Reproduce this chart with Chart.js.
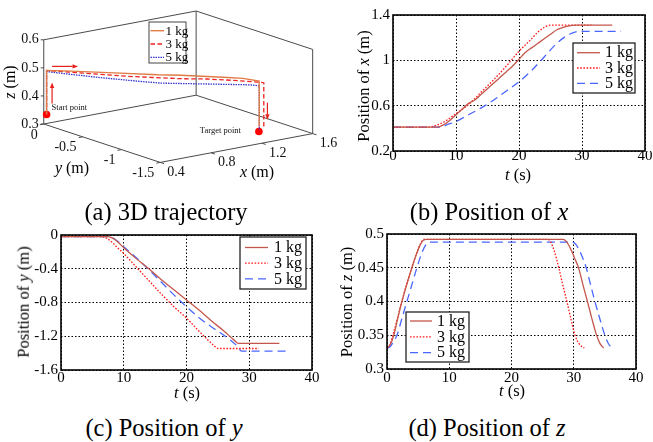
<!DOCTYPE html>
<html><head><meta charset="utf-8">
<script src="https://cdn.jsdelivr.net/npm/chart.js@4.4.1/dist/chart.umd.min.js"></script>
<style>
html,body{margin:0;padding:0;background:#fff;}
#wrap{position:relative;width:653px;height:442px;overflow:hidden;background:#fff;font-family:"Liberation Serif","Times New Roman",Tinos,"DejaVu Serif",serif;color:#000;}
canvas{position:absolute;}
.t{position:absolute;white-space:nowrap;line-height:1;transform:translate(-50%,-50%);}
.r{transform:translate(-50%,-50%) rotate(-90deg);}
.cap{font-size:24.5px;}
.ax{font-size:16.5px;}
.ax3{font-size:16px;}
</style></head><body>
<div id="wrap">
<canvas id="ca" width="345" height="200" style="left:0;top:0"></canvas>
<canvas id="cb" width="320" height="192" style="left:333px;top:0"></canvas>
<canvas id="cc" width="330" height="172" style="left:0;top:220px"></canvas>
<canvas id="cd" width="320" height="172" style="left:333px;top:220px"></canvas>

<div class="t ax3 r" style="left:10px;top:82px"><i>z</i> (m)</div>
<div class="t ax3" style="left:72px;top:168px"><i>y</i> (m)</div>
<div class="t ax3" style="left:257px;top:172px"><i>x</i> (m)</div>

<div class="t ax r" style="left:364px;top:86px">Position of <i>x</i> (m)</div>
<div class="t ax" style="left:518px;top:175px"><i>t</i> (s)</div>
<div class="t ax r" style="left:24px;top:302px">Position of <i>y</i> (m)</div>
<div class="t ax" style="left:187px;top:393px"><i>t</i> (s)</div>
<div class="t ax r" style="left:347px;top:302px">Position of <i>z</i> (m)</div>
<div class="t ax" style="left:512px;top:391px"><i>t</i> (s)</div>

<div class="t cap" style="left:166px;top:212px">(a) 3D trajectory</div>
<div class="t cap" style="left:489px;top:212px">(b) Position of <i>x</i></div>
<div class="t cap" style="left:164px;top:428px">(c) Position of <i>y</i></div>
<div class="t cap" style="left:487px;top:428px">(d) Position of <i>z</i></div>
</div>
<script>
// ---------------- data ----------------
const massLabels = ['1 kg', '3 kg', '5 kg'];
const timeTicks = [0, 10, 20, 30, 40];
const xPosTicks = [0.2, 0.6, 1, 1.4];
const yPosTicks = [0, -0.4, -0.8, -1.2, -1.6];
const zPosTicks = [0.3, 0.35, 0.4, 0.45, 0.5];

// (b) position of x
const tX1 = [0, 7, 8, 9, 10, 11, 12, 13, 14, 15, 16, 17, 18, 19, 20, 21, 22, 23, 24, 25, 26, 27, 28, 29, 34.8];
const posX1 = [0.41, 0.41, 0.43, 0.47, 0.52, 0.57, 0.62, 0.65, 0.70, 0.75, 0.80, 0.85, 0.90, 0.95, 1.01, 1.07, 1.11, 1.15, 1.19, 1.23, 1.27, 1.29, 1.305, 1.31, 1.31];
const tX3 = [0, 5.5, 6.5, 7.5, 8.5, 10, 12, 14, 16, 18, 20, 22, 23, 24, 25, 31.5];
const posX3 = [0.41, 0.41, 0.42, 0.44, 0.47, 0.53, 0.61, 0.72, 0.83, 0.95, 1.08, 1.19, 1.25, 1.29, 1.31, 1.31];
const tX5 = [0, 7.7, 8.5, 10, 12, 14, 16, 18, 20, 22, 24, 26, 28, 29.5, 36.2];
const posX5 = [0.41, 0.41, 0.43, 0.46, 0.52, 0.58, 0.65, 0.73, 0.81, 0.91, 1.03, 1.15, 1.23, 1.256, 1.256];

// (c) position of y
const tY1 = [0, 7.5, 8.3, 9.0, 10, 12, 14, 16, 18, 20, 22, 24, 26, 27.5, 28.3, 34.8];
const posY1 = [-0.02, -0.02, -0.04, -0.08, -0.15, -0.28, -0.40, -0.53, -0.65, -0.77, -0.89, -1.02, -1.14, -1.24, -1.285, -1.285];
const tY3 = [0, 6.5, 7.3, 8.2, 9, 10, 12, 14, 16, 18, 20, 22, 23.5, 24.5, 25.1, 31.5];
const posY3 = [-0.02, -0.02, -0.04, -0.09, -0.15, -0.22, -0.38, -0.54, -0.70, -0.85, -0.985, -1.14, -1.25, -1.32, -1.345, -1.345];
const tY5 = [0, 7.8, 8.6, 9.3, 10, 12, 14, 16, 18, 20, 22, 24, 26, 28, 28.8, 36.3];
const posY5 = [-0.02, -0.02, -0.05, -0.09, -0.14, -0.27, -0.41, -0.56, -0.71, -0.85, -0.98, -1.09, -1.19, -1.31, -1.376, -1.376];

// (d) position of z
const tZ1 = [0, 0.5, 1.1, 1.7, 2.4, 3.2, 4.0, 4.8, 5.4, 5.9, 6.4, 28.3, 28.8, 29.5, 30.1, 30.8, 31.5, 32.2, 32.9, 33.6, 34.2, 34.8];
const posZ1 = [0.331, 0.336, 0.350, 0.374, 0.400, 0.426, 0.450, 0.472, 0.485, 0.491, 0.492, 0.492, 0.489, 0.478, 0.465, 0.449, 0.424, 0.400, 0.375, 0.352, 0.338, 0.331];
const tZ3 = [0, 0.5, 1.0, 1.7, 2.4, 3.2, 4.0, 4.8, 5.4, 5.9, 6.4, 25.8, 26.3, 26.9, 27.6, 28.2, 28.9, 29.5, 30.2, 30.9, 31.7];
const posZ3 = [0.331, 0.337, 0.352, 0.376, 0.401, 0.427, 0.451, 0.473, 0.486, 0.492, 0.492, 0.492, 0.488, 0.474, 0.450, 0.426, 0.400, 0.376, 0.350, 0.337, 0.331];
const tZ5 = [0, 0.5, 1.0, 1.6, 2.4, 3.2, 4.0, 4.8, 5.6, 6.3, 6.8, 29.8, 30.4, 31.1, 32.0, 32.7, 33.4, 34.2, 35.0, 35.6, 36.2];
const posZ5 = [0.331, 0.333, 0.340, 0.350, 0.375, 0.400, 0.425, 0.450, 0.472, 0.485, 0.488, 0.488, 0.484, 0.472, 0.450, 0.425, 0.400, 0.374, 0.350, 0.337, 0.331];

// (a) 3D trajectory
const traj1X = [0.41, 0.41, 0.52, 0.71, 0.90, 1.01, 1.19, 1.27, 1.31, 1.31];
const traj1Y = [-0.02, -0.02, -0.15, -0.40, -0.65, -0.77, -1.02, -1.14, -1.285, -1.285];
const traj1Z = [0.335, 0.492, 0.492, 0.492, 0.492, 0.492, 0.492, 0.492, 0.492, 0.33];
const traj3X = [0.41, 0.41, 0.53, 0.72, 0.95, 1.08, 1.19, 1.29, 1.31, 1.31];
const traj3Y = [-0.02, -0.02, -0.22, -0.54, -0.85, -0.985, -1.14, -1.30, -1.345, -1.345];
const traj3Z = [0.335, 0.492, 0.492, 0.492, 0.492, 0.492, 0.492, 0.492, 0.492, 0.331];
const traj5X = [0.41, 0.41, 0.46, 0.58, 0.73, 0.81, 1.03, 1.23, 1.256, 1.256];
const traj5Y = [-0.02, -0.02, -0.14, -0.41, -0.71, -0.85, -1.09, -1.31, -1.376, -1.376];
const traj5Z = [0.335, 0.488, 0.488, 0.488, 0.488, 0.488, 0.488, 0.488, 0.488, 0.331];
const startPoint = [0.41, -0.02, 0.335];
const targetPoint = [1.256, -1.37, 0.325];
const ticks3X = [0.4, 0.8, 1.2, 1.6];
const ticks3Y = [0, -0.5, -1, -1.5];
const ticks3Z = [0.3, 0.4, 0.5, 0.6];

// ---------------- helpers ----------------
const SERIF = '"Liberation Serif","Times New Roman",Tinos,"DejaVu Serif",serif';
const pts = (t, v) => t.map((x, i) => ({x: x, y: v[i]}));

const framePlugin = {
  id: 'frame',
  afterDatasetsDraw(chart) {
    const {ctx, chartArea: a} = chart;
    ctx.save();
    ctx.strokeStyle = '#000'; ctx.lineWidth = 1.6; ctx.setLineDash([]);
    ctx.strokeRect(a.left, a.top, a.right - a.left, a.bottom - a.top);
    ctx.restore();
  }
};

const boxLegend = {
  id: 'boxLegend',
  afterDraw(chart, args, o) {
    if (!o || !o.width) return;
    const {ctx, chartArea: a} = chart;
    const left = o.anchor.indexOf('right') >= 0 ? a.right - o.dx - o.width : a.left + o.dx;
    const top = o.anchor.indexOf('top') >= 0 ? a.top + o.dy : a.bottom - o.dy - o.height;
    ctx.save();
    ctx.fillStyle = '#fff';
    ctx.fillRect(left, top, o.width, o.height);
    ctx.strokeStyle = o.borderColor; ctx.lineWidth = o.borderWidth; ctx.setLineDash([]);
    ctx.strokeRect(left, top, o.width, o.height);
    ctx.font = o.font; ctx.fillStyle = '#000'; ctx.textBaseline = 'middle'; ctx.textAlign = 'left';
    let row = 0;
    chart.data.datasets.forEach(ds => {
      if (ds.legendSkip) return;
      const y = top + o.rowY0 + row * o.rowStep;
      ctx.strokeStyle = ds.borderColor; ctx.lineWidth = ds.borderWidth;
      ctx.setLineDash(ds.borderDash || []);
      ctx.beginPath(); ctx.moveTo(left + o.lineX0, y); ctx.lineTo(left + o.lineX1, y); ctx.stroke();
      ctx.setLineDash([]);
      ctx.fillText(ds.label, left + o.textX, y + 0.5);
      row++;
    });
    ctx.restore();
  }
};

const styles2D = [
  {borderColor: '#c4574c', borderWidth: 1.3, borderDash: []},
  {borderColor: '#ff1a1a', borderWidth: 1.3, borderDash: [1.6, 1.6]},
  {borderColor: '#4a66ff', borderWidth: 1.3, borderDash: [8, 5]}
];

function make2D(id, series, yMin, yMax, yTicks, g, legend) {
  const datasets = series.map((s, i) => Object.assign({
    label: massLabels[i], data: pts(s[0], s[1]),
    pointRadius: 0, fill: false, cubicInterpolationMode: 'monotone'
  }, styles2D[i]));
  const tickFont = {family: SERIF, size: 15, lineHeight: 1};
  const gridOpts = {color: '#000', lineWidth: 1, drawTicks: false};
  const borderOpts = {display: false, dash: [1.5, 2]};
  return new Chart(document.getElementById(id), {
    type: 'line',
    data: {datasets: datasets},
    plugins: [framePlugin, boxLegend],
    options: {
      responsive: false, animation: false, events: [],
      layout: {padding: {left: 0, top: g.top, right: g.right, bottom: 0}},
      plugins: {legend: {display: false}, tooltip: {enabled: false}, boxLegend: legend},
      scales: {
        x: {type: 'linear', min: 0, max: 40,
            afterBuildTicks: s => { s.ticks = timeTicks.map(v => ({value: v})); },
            afterFit: s => { s.height = g.xh; },
            ticks: {font: tickFont, color: '#000', padding: g.xpad, maxRotation: 0, autoSkip: false, callback: v => String(v)},
            grid: gridOpts, border: borderOpts},
        y: {type: 'linear', min: yMin, max: yMax,
            afterBuildTicks: s => { s.ticks = yTicks.map(v => ({value: v})); },
            afterFit: s => { s.width = g.yw; },
            ticks: {font: tickFont, color: '#000', padding: 3, autoSkip: false, callback: v => String(v)},
            grid: gridOpts, border: borderOpts}
      }
    }
  });
}

const legend2D = {width: 62, height: 50, rowY0: 9.7, rowStep: 15.3, lineX0: 4, lineX1: 27, textX: 32,
  font: '16px ' + SERIF, borderColor: '#222', borderWidth: 1.3};

function drawAll() {
make2D('cb', [[tX1, posX1], [tX3, posX3], [tX5, posX5]], 0.2, 1.4, xPosTicks,
  {top: 15, right: 8, yw: 60, xh: 41, xpad: -2},
  Object.assign({}, legend2D, {anchor: 'top-right', dx: 10, dy: 28}));
make2D('cc', [[tY1, posY1], [tY3, posY3], [tY5, posY5]], -1.6, 0, yPosTicks,
  {top: 15, right: 18, yw: 61, xh: 22, xpad: 0.5},
  Object.assign({}, legend2D, {anchor: 'top-right', dx: 6, dy: 2, width: 66, height: 52, rowY0: 10.5, rowStep: 15.7, lineX0: 5, lineX1: 28, textX: 34}));
make2D('cd', [[tZ1, posZ1], [tZ3, posZ3], [tZ5, posZ5]], 0.3, 0.5, zPosTicks,
  {top: 14, right: 17, yw: 54, xh: 23, xpad: 1.5},
  Object.assign({}, legend2D, {anchor: 'bottom-left', dx: 19, dy: 7, width: 63, height: 50, rowY0: 9, rowStep: 15.8, lineX0: 4, lineX1: 26, textX: 31}));
make3D();
}

// ---------------- 3D panel ----------------
const P3 = {ox: 40.7, oy: 125, ux: 156, uy: -30, vx: 119.3, vy: 40, wz: 87.7};
const LIM3 = {x0: 0.4, x1: 1.6, y0: 0, y1: -1.5, z0: 0.3, z1: 0.6};
function proj(x, y, z) {
  const u = (x - LIM3.x0) / (LIM3.x1 - LIM3.x0);
  const v = (y - LIM3.y0) / (LIM3.y1 - LIM3.y0);
  const w = (z - LIM3.z0) / (LIM3.z1 - LIM3.z0);
  return {x: P3.ox + u * P3.ux + v * P3.vx, y: P3.oy + u * P3.uy + v * P3.vy - w * P3.wz};
}
const traj = (X, Y, Z) => X.map((x, i) => proj(x, Y[i], Z[i]));

function toPx(chart, p) {
  return {x: chart.scales.x.getPixelForValue(p.x), y: chart.scales.y.getPixelForValue(p.y)};
}
function arrow(ctx, x0, y0, x1, y1) {
  const ang = Math.atan2(y1 - y0, x1 - x0), L = 5.5, W = 2.2;
  ctx.beginPath(); ctx.moveTo(x0, y0); ctx.lineTo(x1 - L * Math.cos(ang), y1 - L * Math.sin(ang)); ctx.stroke();
  ctx.beginPath();
  ctx.moveTo(x1, y1);
  ctx.lineTo(x1 - L * Math.cos(ang) - W * Math.sin(ang), y1 - L * Math.sin(ang) + W * Math.cos(ang));
  ctx.lineTo(x1 - L * Math.cos(ang) + W * Math.sin(ang), y1 - L * Math.sin(ang) - W * Math.cos(ang));
  ctx.closePath(); ctx.fill();
}

const box3D = {
  id: 'box3D',
  beforeDatasetsDraw(chart) {
    const ctx = chart.ctx, L = LIM3;
    const c = (x, y, z) => toPx(chart, proj(x, y, z));
    const A = c(L.x0, L.y0, L.z0), B = c(L.x0, L.y1, L.z0), C = c(L.x1, L.y1, L.z0), D = c(L.x1, L.y0, L.z0);
    const At = c(L.x0, L.y0, L.z1), Ct = c(L.x1, L.y1, L.z1), Dt = c(L.x1, L.y0, L.z1);
    ctx.save();
    ctx.strokeStyle = '#4a4a4a'; ctx.lineWidth = 1; ctx.setLineDash([]);
    const seg = (p, q) => { ctx.beginPath(); ctx.moveTo(p.x, p.y); ctx.lineTo(q.x, q.y); ctx.stroke(); };
    seg(A, B); seg(B, C); seg(C, D); seg(D, A);
    seg(A, At); seg(D, Dt); seg(C, Ct); seg(At, Dt); seg(Dt, Ct);
    ctx.fillStyle = '#111'; ctx.font = '14px ' + SERIF;
    const ex = {x: (D.x - A.x), y: (D.y - A.y)}, ey = {x: (B.x - A.x), y: (B.y - A.y)};
    const nx = Math.hypot(ex.x, ex.y), ny = Math.hypot(ey.x, ey.y);
    ticks3Z.forEach(z => {
      const p = c(L.x0, L.y0, z);
      seg({x: p.x - 3, y: p.y}, p);
      ctx.textAlign = 'right'; ctx.textBaseline = 'middle';
      ctx.fillText(String(z), p.x - 5, p.y);
    });
    ticks3Y.forEach(y => {
      const p = c(L.x0, y, L.z0);
      seg(p, {x: p.x - 4 * ex.x / nx, y: p.y - 4 * ex.y / nx});
      ctx.textAlign = 'right'; ctx.textBaseline = 'middle';
      ctx.fillText(String(y), p.x - 6, p.y + 11);
    });
    ticks3X.forEach(x => {
      const p = c(x, L.y1, L.z0);
      seg(p, {x: p.x + 4 * ey.x / ny, y: p.y + 4 * ey.y / ny});
      ctx.textAlign = 'left'; ctx.textBaseline = 'middle';
      ctx.fillText(String(x), p.x + 7, p.y + 10);
    });
    ctx.restore();
  },
  afterDatasetsDraw(chart) {
    const ctx = chart.ctx;
    const s = toPx(chart, proj(startPoint[0], startPoint[1], startPoint[2]));
    const top = toPx(chart, proj(traj1X[1], traj1Y[1], traj1Z[1]));
    const endTop = toPx(chart, proj(traj3X[8], traj3Y[8], traj3Z[8]));
    const tg = toPx(chart, proj(targetPoint[0], targetPoint[1], targetPoint[2]));
    ctx.save();
    ctx.strokeStyle = '#e8201c'; ctx.fillStyle = '#e8201c'; ctx.lineWidth = 1.2; ctx.setLineDash([]);
    arrow(ctx, top.x + 5.5, top.y - 4, top.x + 31.5, top.y - 4);
    arrow(ctx, s.x + 5.5, s.y - 11, s.x + 5.5, s.y - 32);
    arrow(ctx, endTop.x + 3.6, endTop.y + 20, endTop.x + 3.6, endTop.y + 37);
    ctx.fillStyle = '#111'; ctx.font = '8.5px ' + SERIF; ctx.textBaseline = 'middle';
    ctx.textAlign = 'left'; ctx.fillText('Start point', s.x + 5, s.y - 7);
    ctx.textAlign = 'right'; ctx.fillText('Target point', tg.x - 18, tg.y - 1);
    ctx.restore();
  }
};

function make3D() {
new Chart(document.getElementById('ca'), {
  type: 'scatter',
  data: {datasets: [
    {label: massLabels[0], data: traj(traj1X, traj1Y, traj1Z), showLine: true, pointRadius: 0, tension: 0,
     borderColor: '#e07b45', borderWidth: 1.4, borderDash: []},
    {label: massLabels[1], data: traj(traj3X, traj3Y, traj3Z), showLine: true, pointRadius: 0, tension: 0,
     borderColor: '#ee2222', borderWidth: 1.3, borderDash: [4.5, 2.5]},
    {label: massLabels[2], data: traj(traj5X, traj5Y, traj5Z), showLine: true, pointRadius: 0, tension: 0,
     borderColor: '#3535d0', borderWidth: 1.3, borderDash: [1.5, 1]},
    {label: 'points', legendSkip: true, data: [proj(startPoint[0], startPoint[1], startPoint[2]), proj(targetPoint[0], targetPoint[1], targetPoint[2])],
     showLine: false, pointRadius: 3.8, backgroundColor: '#ff0000', borderColor: '#ff0000', borderWidth: 0}
  ]},
  plugins: [box3D, boxLegend],
  options: {
    responsive: false, animation: false, events: [],
    layout: {padding: 0},
    plugins: {legend: {display: false}, tooltip: {enabled: false},
      boxLegend: {anchor: 'top-left', dx: 145, dy: 18, width: 37, height: 41, rowY0: 8.7, rowStep: 13.3,
        lineX0: 1.5, lineX1: 15, textX: 16.5, font: '13px ' + SERIF, borderColor: '#444', borderWidth: 1}},
    scales: {
      x: {type: 'linear', min: 0, max: 345, display: false},
      y: {type: 'linear', min: 0, max: 200, reverse: true, display: false}
    }
  }
});
}

if (document.fonts && document.fonts.load) {
  Promise.all([document.fonts.load('15px "Liberation Serif"'), document.fonts.load('italic 15px "Liberation Serif"')])
    .then(drawAll, drawAll);
} else { drawAll(); }
</script>
</body></html>
